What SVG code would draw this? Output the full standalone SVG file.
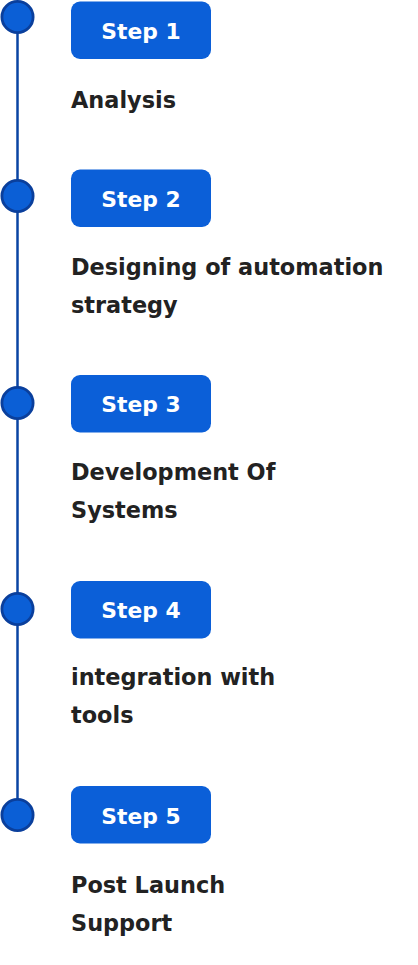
<svg xmlns="http://www.w3.org/2000/svg" width="418" height="965" viewBox="0 0 418 965">
<style>
.dot{fill:#0b5fd6;stroke:#0a3f9c;stroke-width:2.8}
.btn{fill:#0b5fd8}
.bt{font-family:"DejaVu Sans",sans-serif;font-weight:bold;font-size:21.8px;fill:#fff;text-anchor:middle}
.lb{font-family:"DejaVu Sans",sans-serif;font-weight:bold;font-size:22.4px;fill:#222}
</style>
<rect width="418" height="965" fill="#fff"/>
<g id="connectors">
<line x1="17.5" y1="17" x2="17.5" y2="815" stroke="#0a44a3" stroke-width="2.5"/>
</g>
<g id="step1">
<circle class="dot" cx="17.5" cy="17" r="15.6"/>
<rect class="btn" x="71" y="1.5" width="140" height="57.5" rx="9"/>
<text class="bt" x="141" y="38.5">Step 1</text>
<text class="lb" x="71" y="108">Analysis</text>
</g>
<g id="step2">
<circle class="dot" cx="17.5" cy="196" r="15.6"/>
<rect class="btn" x="71" y="169.5" width="140" height="57.5" rx="9"/>
<text class="bt" x="141" y="206.5">Step 2</text>
<text class="lb" x="71" y="275">Designing of automation</text>
<text class="lb" x="71" y="313">strategy</text>
</g>
<g id="step3">
<circle class="dot" cx="17.5" cy="403" r="15.6"/>
<rect class="btn" x="71" y="375" width="140" height="57.5" rx="9"/>
<text class="bt" x="141" y="412">Step 3</text>
<text class="lb" x="71" y="480">Development Of</text>
<text class="lb" x="71" y="518">Systems</text>
</g>
<g id="step4">
<circle class="dot" cx="17.5" cy="609" r="15.6"/>
<rect class="btn" x="71" y="581" width="140" height="57.5" rx="9"/>
<text class="bt" x="141" y="618">Step 4</text>
<text class="lb" x="71" y="685">integration with</text>
<text class="lb" x="71" y="723">tools</text>
</g>
<g id="step5">
<circle class="dot" cx="17.5" cy="815" r="15.6"/>
<rect class="btn" x="71" y="786" width="140" height="57.5" rx="9"/>
<text class="bt" x="141" y="823.5">Step 5</text>
<text class="lb" x="71" y="893">Post Launch</text>
<text class="lb" x="71" y="931">Support</text>
</g>
</svg>
